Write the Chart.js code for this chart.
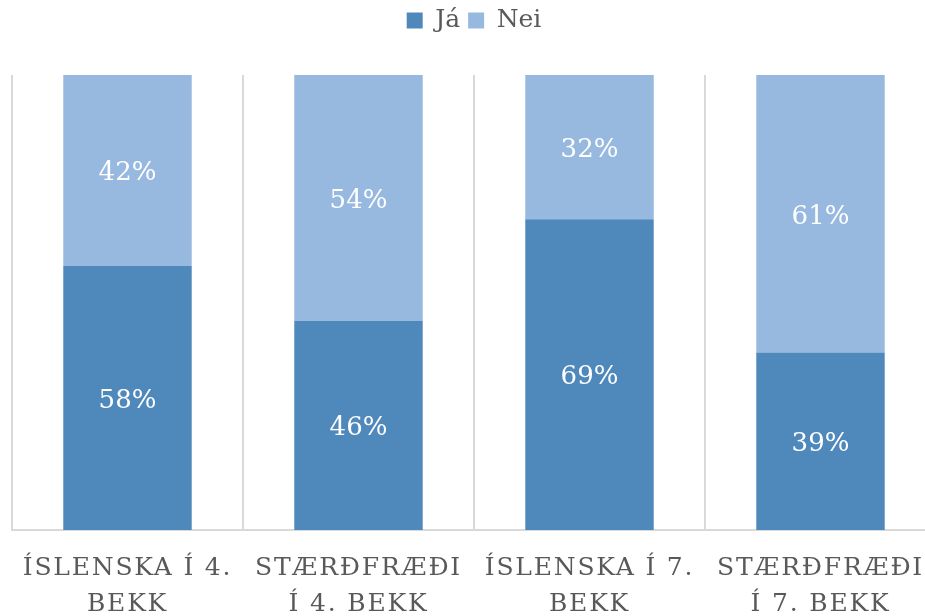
<!DOCTYPE html>
<html>
<head>
<meta charset="utf-8">
<script src="https://cdn.jsdelivr.net/npm/chart.js@4"></script>
<style>
  html, body { margin: 0; padding: 0; background: #ffffff; overflow: hidden; }
  #wrap { width: 936px; height: 616px; }
</style>
</head>
<body>
<div id="wrap"><canvas id="grafico" width="936" height="616"></canvas></div>
<script>
const flokkar = [
  ["ÍSLENSKA Í 4.", "BEKK"],
  ["STÆRÐFRÆÐI", "Í 4. BEKK"],
  ["ÍSLENSKA Í 7.", "BEKK"],
  ["STÆRÐFRÆÐI", "Í 7. BEKK"]
];
const ja = [58, 46, 69, 39];
const nei = [42, 54, 32, 61];

const LETUR = "'DejaVu Serif', serif";

// 100% stafla: hlutfall af summu hvers flokks
function hlutfall(gildi, i) {
  return gildi[i] / (ja[i] + nei[i]) * 100;
}

/* ================= MERKI ================= */

const merkiPlugin = {
  id: "merki",
  afterDatasetsDraw(chart) {
    const ctx = chart.ctx;
    ctx.save();
    ctx.font = "26px " + LETUR;
    ctx.fillStyle = "#ffffff";
    ctx.textAlign = "center";
    ctx.textBaseline = "middle";
    chart.data.datasets.forEach((ds, di) => {
      const meta = chart.getDatasetMeta(di);
      meta.data.forEach((bar, i) => {
        const midja = (bar.y + bar.base) / 2 + 3;
        ctx.fillText(ds.raw[i] + "%", bar.x, midja);
      });
    });
    ctx.restore();
  }
};

// bil milli stafa á x-ás
const bilPlugin = {
  id: "stafabil",
  beforeDraw(chart) {
    const x = chart.scales.x;
    if (x._bilSett) return;
    const upphafleg = Object.getPrototypeOf(x).drawLabels;
    x.drawLabels = function (area) {
      chart.ctx.save();
      chart.ctx.letterSpacing = "1.8px";
      upphafleg.call(this, area);
      chart.ctx.restore();
    };
    x._bilSett = true;
  }
};

// hæð skýringar, svo teiknisvæðið byrji neðar
const skyringPlugin = {
  id: "skyringHaed",
  afterInit(chart) {
    const lg = chart.legend;
    if (!lg) return;
    const fitUpph = lg.fit;
    lg.fit = function () {
      fitUpph.call(this);
      this.height = 75;
    };
  }
};

new Chart(document.getElementById("grafico"), {
  type: "bar",
  data: {
    labels: flokkar,
    datasets: [
      {
        label: "Já",
        raw: ja,
        data: ja.map((_, i) => hlutfall(ja, i)),
        backgroundColor: "#4F88BB",
        categoryPercentage: 1,
        barPercentage: 0.556
      },
      {
        label: "Nei",
        raw: nei,
        data: nei.map((_, i) => hlutfall(nei, i)),
        backgroundColor: "#97B8DF",
        categoryPercentage: 1,
        barPercentage: 0.556
      }
    ]
  },
  options: {
    responsive: false,
    animation: false,
    layout: { padding: { left: 12, top: 0, right: 0, bottom: 0 } },
    plugins: {
      legend: {
        position: "top",
        labels: {
          font: { family: LETUR, size: 25 },
          color: "#595959",
          boxWidth: 16,
          boxHeight: 16,
          padding: 8
        }
      },
      tooltip: { enabled: false }
    },
    scales: {
      x: {
        stacked: true,
        grid: { display: true, offset: true, color: "#D9D9D9", lineWidth: 2, drawTicks: false },
        border: { display: true, color: "#D9D9D9", width: 2 },
        ticks: {
          font: { family: LETUR, size: 25, lineHeight: 1.44 },
          color: "#595959",
          maxRotation: 0,
          autoSkip: false,
          padding: 20
        },
        afterFit: s => { s.height = 86; }
      },
      y: {
        stacked: true,
        display: false,
        min: 0,
        max: 100
      }
    }
  },
  plugins: [merkiPlugin, bilPlugin, skyringPlugin]
});
</script>
</body>
</html>
